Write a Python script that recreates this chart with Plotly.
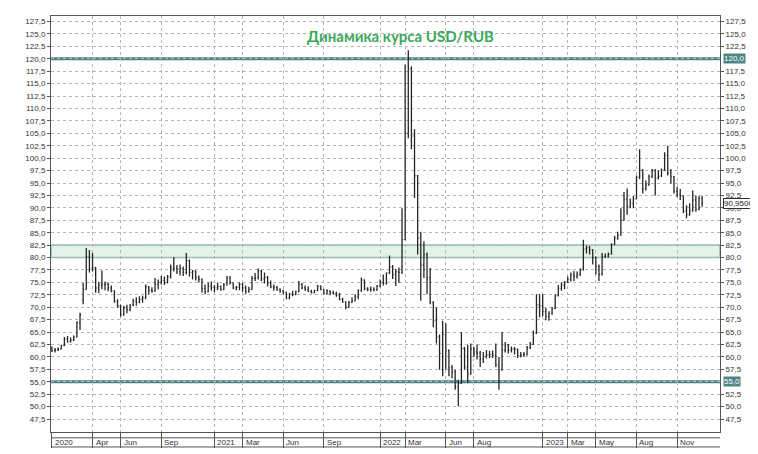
import pandas as pd
import plotly.graph_objects as go

# weekly bars, (open, high, low, close), one list per year
bars_2020 = [
    (61.9, 62.1, 61.0, 61.3), (61.3, 61.8, 60.9, 61.4), (61.4, 61.9, 61.2, 61.6), (61.6, 62.4, 61.5, 62.3),
    (62.3, 64.0, 62.2, 63.6), (63.6, 64.2, 62.9, 63.1), (63.1, 63.9, 62.9, 63.4), (63.4, 64.3, 63.2, 64.0),
    (64.0, 67.2, 64.0, 66.9), (66.9, 68.9, 65.4, 68.5), (71.5, 74.9, 70.6, 73.6), (73.6, 81.9, 73.5, 80.2),
    (80.2, 81.5, 77.0, 77.7), (77.7, 80.9, 77.2, 78.0), (78.0, 78.1, 72.9, 73.9), (73.9, 75.1, 72.8, 74.4),
    (74.4, 77.4, 73.6, 74.6), (74.6, 75.2, 73.4, 74.6), (74.6, 75.0, 73.2, 73.9), (73.9, 74.4, 73.0, 73.3),
    (73.3, 73.4, 70.9, 71.2), (71.2, 71.6, 69.9, 70.3), (70.3, 70.5, 68.1, 68.6), (68.6, 70.3, 68.3, 69.9),
    (69.9, 70.5, 68.8, 69.5), (69.5, 70.6, 69.2, 70.4), (70.4, 71.7, 70.2, 71.3), (71.3, 72.0, 70.3, 71.0),
    (71.0, 72.2, 70.8, 71.6), (71.6, 72.3, 70.9, 71.9), (71.9, 74.6, 71.6, 74.1), (74.1, 74.3, 72.6, 73.4),
    (73.4, 74.0, 72.9, 73.3), (73.3, 75.9, 73.1, 74.6), (74.6, 75.6, 73.6, 75.0), (75.0, 76.3, 74.6, 75.4),
    (75.4, 76.2, 74.5, 75.0), (75.0, 76.5, 74.8, 76.1), (76.1, 78.6, 75.8, 78.0), (78.0, 80.1, 77.2, 77.8),
    (77.8, 78.5, 76.7, 77.1), (77.1, 78.6, 76.4, 77.8), (77.8, 78.2, 76.3, 77.0), (77.0, 80.9, 76.6, 79.4),
    (79.4, 79.6, 76.2, 77.0), (77.0, 77.5, 75.6, 77.3), (77.3, 77.4, 75.4, 76.0), (76.0, 76.4, 75.0, 75.6),
    (75.6, 75.8, 72.9, 73.8), (73.8, 74.6, 72.6, 73.1), (73.1, 75.0, 73.0, 74.2), (74.2, 75.2, 73.3, 74.0),
]
bars_2021 = [
    (74.0, 74.5, 73.0, 73.9), (73.9, 75.0, 73.4, 74.2), (74.2, 74.4, 73.3, 73.6), (73.6, 74.9, 73.4, 74.5),
    (74.5, 76.3, 74.4, 75.9), (75.9, 76.3, 74.6, 74.9), (74.9, 74.9, 73.6, 73.9), (73.9, 74.3, 73.4, 74.0),
    (74.0, 75.0, 73.4, 74.6), (74.6, 74.9, 73.1, 73.9), (73.9, 74.4, 72.7, 73.2), (73.2, 74.1, 72.9, 73.6),
    (73.6, 76.3, 73.5, 75.8), (75.8, 76.9, 75.3, 75.9), (75.9, 77.8, 75.6, 77.3), (77.3, 77.5, 75.3, 75.7),
    (75.7, 77.0, 74.8, 76.0), (76.0, 76.3, 74.2, 74.9), (74.9, 75.4, 73.8, 74.1), (74.1, 74.6, 73.3, 74.0),
    (74.0, 74.3, 73.3, 73.5), (73.5, 73.8, 72.9, 73.3), (73.3, 73.5, 72.6, 73.0), (73.0, 73.1, 71.6, 71.9),
    (71.9, 72.9, 71.6, 72.6), (72.6, 73.3, 72.2, 72.6), (72.6, 73.3, 72.4, 73.1), (73.1, 75.3, 73.0, 74.6),
    (74.6, 74.9, 73.6, 73.9), (73.9, 74.4, 73.3, 73.5), (73.5, 74.2, 73.1, 73.2), (73.2, 73.5, 72.8, 72.9),
    (72.9, 73.5, 72.8, 73.4), (73.4, 74.5, 73.2, 74.3), (74.3, 74.4, 73.4, 73.6), (73.6, 73.6, 72.6, 72.7),
    (72.7, 73.6, 72.6, 73.3), (73.3, 73.4, 72.4, 72.9), (72.9, 73.3, 72.6, 72.8), (72.8, 73.1, 72.1, 72.5),
    (72.5, 72.9, 71.4, 71.6), (71.6, 71.9, 70.9, 71.1), (71.1, 71.2, 69.6, 70.0), (70.0, 71.3, 69.9, 71.0),
    (71.0, 72.0, 70.9, 71.3), (71.3, 72.6, 71.2, 72.1), (72.1, 73.6, 71.6, 73.3), (73.3, 76.0, 73.1, 75.5),
    (75.5, 75.6, 73.4, 73.7), (73.7, 74.0, 73.2, 73.6), (73.6, 74.2, 73.1, 73.6), (73.6, 74.0, 73.2, 73.5),
    (73.5, 74.5, 73.3, 74.3),
]
bars_2022 = [
    (74.3, 75.6, 74.0, 75.0), (75.0, 76.6, 74.4, 74.8), (74.8, 77.0, 74.6, 76.9), (76.9, 80.4, 76.7, 78.1),
    (78.1, 78.5, 75.7, 76.6), (76.6, 77.7, 74.3, 77.1), (77.1, 78.0, 74.9, 77.0), (77.0, 89.9, 76.7, 83.6),
    (83.6, 118.8, 83.5, 105.0), (105.0, 121.7, 104.0, 118.0), (118.0, 118.5, 101.8, 104.5), (104.5, 105.8, 92.0, 96.5),
    (96.5, 96.6, 80.6, 83.9), (83.9, 85.2, 71.3, 78.5), (78.5, 83.3, 75.9, 80.6), (80.6, 81.0, 72.6, 76.0),
    (76.0, 77.9, 70.6, 71.0), (71.0, 71.2, 66.0, 67.3), (67.3, 70.0, 62.7, 64.0), (64.0, 64.5, 57.4, 60.7),
    (60.7, 67.3, 56.1, 64.5), (64.5, 66.8, 57.4, 61.3), (61.3, 61.5, 56.1, 57.9), (57.9, 58.4, 55.7, 57.0),
    (57.0, 57.4, 53.4, 54.0), (54.0, 55.4, 50.1, 54.7), (54.7, 65.0, 54.6, 61.7), (61.7, 62.0, 57.4, 58.0),
    (58.0, 62.4, 54.7, 56.6), (56.6, 62.7, 56.4, 61.6), (61.6, 62.0, 60.0, 61.0), (61.0, 62.5, 59.5, 60.7),
    (60.7, 61.2, 58.0, 59.6), (59.6, 61.0, 58.8, 60.1), (60.1, 61.4, 59.7, 60.4), (60.4, 61.2, 59.8, 60.5),
    (60.5, 61.3, 59.8, 60.3), (60.3, 62.7, 58.0, 58.4), (58.4, 60.0, 53.4, 57.4), (57.4, 65.0, 57.2, 61.4),
    (61.4, 63.0, 60.9, 62.4), (62.4, 62.6, 60.7, 61.4), (61.4, 62.1, 60.9, 61.6), (61.6, 62.0, 60.5, 61.5),
    (61.5, 61.7, 59.8, 60.3), (60.3, 61.0, 59.9, 60.4), (60.4, 61.0, 60.0, 60.5), (60.5, 62.2, 60.3, 61.9),
    (61.9, 63.0, 61.6, 62.6), (62.6, 65.3, 62.4, 64.8), (64.8, 72.6, 64.6, 70.5), (70.5, 72.6, 68.0, 70.3),
]
bars_2023 = [
    (70.3, 72.6, 68.2, 69.1), (69.1, 69.9, 67.4, 68.1), (68.1, 69.2, 67.3, 68.7), (68.7, 70.0, 68.5, 69.8),
    (69.8, 72.6, 69.6, 72.3), (72.3, 74.5, 72.2, 73.8), (73.8, 75.0, 73.3, 74.4), (74.4, 75.3, 73.6, 75.0),
    (75.0, 76.2, 74.9, 75.6), (75.6, 77.0, 75.2, 76.5), (76.5, 77.3, 75.3, 76.2), (76.2, 77.2, 75.8, 76.6),
    (76.6, 77.8, 76.3, 77.6), (77.6, 83.6, 77.4, 81.7), (81.7, 82.4, 80.8, 82.0), (82.0, 82.3, 80.6, 81.6),
    (81.6, 81.7, 78.6, 80.0), (80.0, 80.2, 76.6, 78.2), (78.2, 78.6, 75.3, 76.6), (76.6, 80.9, 76.4, 80.2),
    (80.2, 80.8, 79.9, 80.3), (80.3, 81.0, 80.0, 80.7), (80.7, 82.9, 80.6, 82.6), (82.6, 84.4, 82.5, 83.9),
    (83.9, 85.2, 83.6, 84.5), (84.5, 89.9, 84.4, 87.6), (87.6, 93.2, 87.4, 91.7), (91.7, 93.9, 88.6, 90.4),
    (90.4, 91.9, 89.9, 90.9), (90.9, 92.4, 89.9, 91.8), (91.8, 96.5, 91.7, 96.2), (96.2, 101.8, 95.8, 97.6),
    (97.6, 97.8, 92.9, 93.8), (93.8, 95.5, 93.5, 94.6), (94.6, 96.7, 94.5, 96.3), (96.3, 97.8, 96.0, 97.5),
    (97.5, 97.8, 92.5, 96.1), (96.1, 97.5, 95.7, 96.4), (96.4, 97.9, 96.2, 97.6), (97.6, 101.2, 97.4, 100.6),
    (100.6, 102.5, 96.5, 97.0), (97.0, 97.8, 94.9, 96.3), (96.3, 96.4, 92.9, 93.3), (93.3, 94.2, 92.2, 92.7),
    (92.7, 93.8, 91.6, 92.4), (92.4, 92.5, 88.9, 89.4), (89.4, 90.5, 87.9, 88.6), (88.6, 90.9, 88.4, 89.4),
    (89.4, 93.5, 89.2, 91.6), (91.6, 92.5, 89.2, 89.7), (89.7, 92.4, 89.5, 91.9), (91.9, 92.4, 90.2, 90.95),
]

# x-axis ticks (first weekly bar of the month) and their labels
tick_dates = ["2020-01-03", "2020-04-03", "2020-06-05", "2020-09-04",
              "2021-01-01", "2021-03-05", "2021-06-04", "2021-09-03",
              "2022-01-07", "2022-03-04", "2022-06-03", "2022-08-05",
              "2023-01-06", "2023-03-03", "2023-05-05", "2023-08-04", "2023-11-03"]
tick_labels = ["2020", "Apr", "Jun", "Sep", "2021", "Mar", "Jun", "Sep",
               "2022", "Mar", "Jun", "Aug", "2023", "Mar", "May", "Aug", "Nov"]

# levels
level_high = 120.0
level_low = 55.0
band = (80.0, 82.5)
last_price = 90.95

bars = bars_2020 + bars_2021 + bars_2022 + bars_2023
dates = pd.date_range("2020-01-03", "2023-12-29", freq="W-FRI")
df = pd.DataFrame(bars, columns=["open", "high", "low", "close"], index=dates)

FONT = "Liberation Sans, Arial, sans-serif"
LINE = "#4d8484"

fig = go.Figure()
fig.add_trace(go.Ohlc(
    x=df.index, open=df["open"], high=df["high"], low=df["low"], close=df["close"],
    increasing=dict(line=dict(color="#262626", width=1.3)),
    decreasing=dict(line=dict(color="#262626", width=1.3)),
    tickwidth=0.3, showlegend=False, hoverinfo="skip",
))
# invisible trace so the right-hand axis gets drawn
fig.add_trace(go.Scatter(x=[df.index[0]], y=[df["close"].iloc[0]], yaxis="y2",
                         mode="markers", marker=dict(opacity=0), showlegend=False, hoverinfo="skip"))

# support / resistance band and lines
fig.add_shape(type="rect", xref="paper", x0=0, x1=1, y0=band[0], y1=band[1],
              fillcolor="#e4f3e8", line=dict(color="#8fbdbb", width=1.5), layer="between")
for lv in (level_high, level_low):
    fig.add_shape(type="line", xref="paper", x0=0, x1=1, y0=lv, y1=lv,
                  line=dict(color=LINE, width=3), layer="between")

# box under the plot holding the x labels
for yy in (-0.014, -0.036):
    fig.add_shape(type="line", xref="paper", yref="paper", x0=0, x1=1, y0=yy, y1=yy,
                  line=dict(color="#555555", width=1))
for d, t in zip(tick_dates, tick_labels):
    fig.add_annotation(x=d, xref="x", y=-0.025, yref="paper", text=t, showarrow=False,
                       xanchor="left", yanchor="middle", xshift=1,
                       font=dict(family=FONT, size=8, color="#333333"))

fig.add_annotation(x=0.522, y=0.9525, xref="paper", yref="paper",
                   text="<b>Динамика курса USD/RUB</b>", showarrow=False,
                   xanchor="center", yanchor="middle",
                   font=dict(family="Lato, Open Sans, sans-serif", size=15, color="#3aa95a"))

# price tags on the right axis
for lv in (level_high, level_low):
    fig.add_annotation(x=1, xref="paper", y=lv, yref="y", text=f"{lv:.1f}".replace(".", ","),
                       showarrow=False, xanchor="left", yanchor="middle", xshift=3,
                       bgcolor=LINE, borderpad=0,
                       font=dict(family=FONT, size=8, color="#ffffff"))
fig.add_annotation(x=1, xref="paper", y=last_price, yref="y", text=f"{last_price:.4f}".replace(".", ","),
                   showarrow=False, xanchor="left", yanchor="middle", xshift=3,
                   bgcolor="#ffffff", bordercolor="#333333", borderwidth=1, borderpad=0,
                   font=dict(family=FONT, size=8, color="#222222"))

y_min, y_max = 44.9, 128.6
left_ticks = [47.5 + 2.5 * i for i in range(33)]
right_ticks = [v for v in left_ticks if v not in (level_high, level_low)]
yaxis_common = dict(
    range=[y_min, y_max], tickformat=".1f",
    ticks="outside", ticklen=3, tickcolor="#555555",
    tickfont=dict(family=FONT, size=8, color="#333333"),
)
# the page body has an 8px margin, so the figure is 8px smaller each way
fig.update_layout(
    width=750, height=446,
    margin=dict(l=43, r=38, t=7, b=18),
    paper_bgcolor="white", plot_bgcolor="white",
    separators=", ",
    xaxis=dict(
        type="date", range=["2020-01-01", "2024-02-07"],
        tickvals=tick_dates, showticklabels=False,
        ticks="outside", ticklen=15, tickcolor="#555555",
        showgrid=True, gridcolor="#b5b5b5", griddash="dot", gridwidth=1,
        showline=True, linecolor="#555555", mirror=True,
        rangeslider=dict(visible=False),
    ),
    yaxis=dict(**yaxis_common, tickvals=left_ticks,
               showgrid=True, gridcolor="#b5b5b5", griddash="dot",
               showline=True, linecolor="#555555", mirror=True),
    yaxis2=dict(**yaxis_common, tickvals=right_ticks, overlaying="y", side="right",
                showgrid=False, showline=False),
)

fig.write_html("out.html")
